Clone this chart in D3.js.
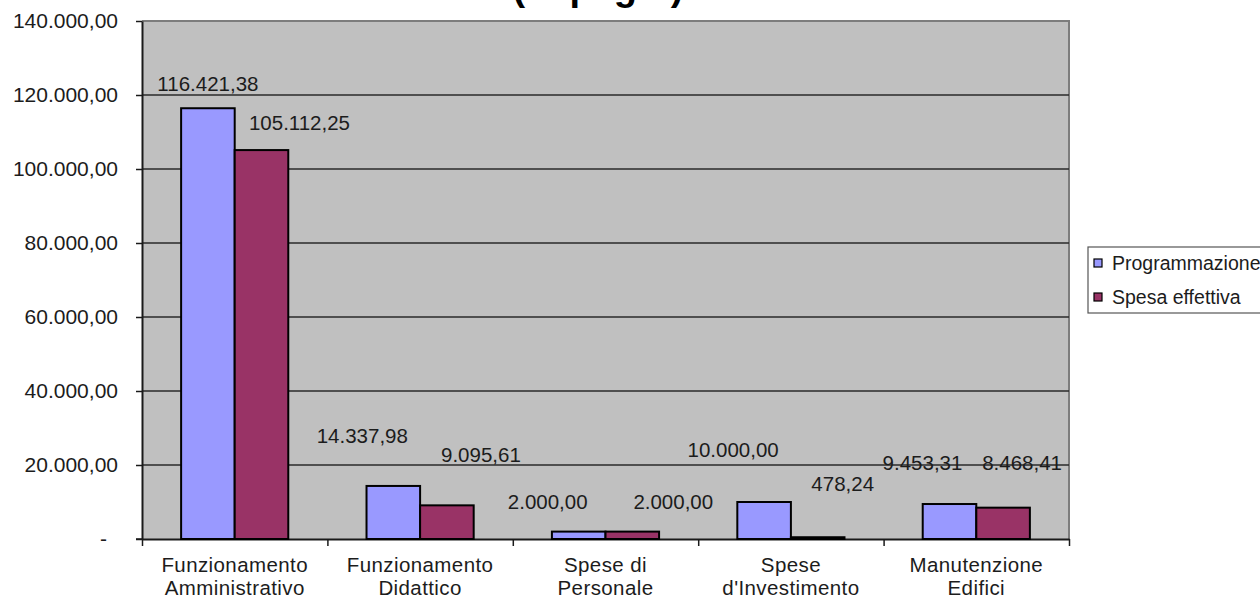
<!DOCTYPE html>
<html>
<head>
<meta charset="utf-8">
<script src="https://cdn.jsdelivr.net/npm/d3@7/dist/d3.min.js"></script>
<style>
  html, body { margin: 0; padding: 0; background: #fff; }
  svg { display: block; font-family: Arial, "Liberation Sans", sans-serif; }
</style>
</head>
<body>
<svg id="chart" width="1260" height="599"></svg>
<script>
// ---- data ----
const categories = [
  ["Funzionamento", "Amministrativo"],
  ["Funzionamento", "Didattico"],
  ["Spese di", "Personale"],
  ["Spese", "d'Investimento"],
  ["Manutenzione", "Edifici"]
];
const seriesNames = ["Programmazione", "Spesa effettiva"];
const programmazione = [116421.38, 14337.98, 2000.00, 10000.00, 9453.31];
const spesaEffettiva = [105112.25, 9095.61, 2000.00, 478.24, 8468.41];
const yTicks = [0, 20000, 40000, 60000, 80000, 100000, 120000, 140000];
const titleText = "(impegni)";

// ---- layout / style ----
const colors = ["#9999ff", "#993366"];
const plot = { left: 142, right: 1069, top: 21, bottom: 539 };
// manual nudges of the value labels (dx from bar centre, dy from bar top), as placed in the original
const labelNudge = [
  [[0, -17], [38, -20]],
  [[-31, -43], [34, -43]],
  [[-31, -23], [41, -23]],
  [[-31, -45], [25, -46]],
  [[-27, -34], [19, -38]]
];

const svg = d3.select("#chart");
const fmt = v => {
  const s = d3.format(",.2f")(v);
  return s.replace(/,/g, "#").replace(".", ",").replace(/#/g, ".");
};

const y = d3.scaleLinear().domain([0, 140000]).range([plot.bottom, plot.top]);
const x0 = d3.scaleBand().domain(d3.range(categories.length)).range([plot.left, plot.right]).padding(0);
const x1 = d3.scaleBand().domain([0, 1]).range([0, x0.bandwidth()]).paddingInner(0).paddingOuter(0.73);

// plot area background
svg.append("rect")
  .attr("x", plot.left).attr("y", plot.top)
  .attr("width", plot.right - plot.left).attr("height", plot.bottom - plot.top)
  .attr("fill", "#c0c0c0");

// plot border (top & right, grey)
svg.append("path")
  .attr("d", `M${plot.left},${plot.top}H${plot.right}V${plot.bottom}`)
  .attr("fill", "none").attr("stroke", "#7d7d7d").attr("stroke-width", 2);

// gridlines
svg.append("g").selectAll("line")
  .data(yTicks.filter(t => t > 0 && t < 140000))
  .join("line")
  .attr("x1", plot.left).attr("x2", plot.right)
  .attr("y1", d => y(d)).attr("y2", d => y(d))
  .attr("stroke", "#2a2a2a").attr("stroke-width", 1.5);

// y axis
const yAxis = d3.axisLeft(y).tickValues(yTicks).tickSize(6).tickSizeOuter(0)
  .tickFormat(d => d === 0 ? "-" : fmt(d));
const gy = svg.append("g").attr("transform", `translate(${plot.left},0)`).call(yAxis);
gy.select(".domain").attr("stroke", "#1a1a1a").attr("stroke-width", 2);
gy.selectAll(".tick line").attr("stroke", "#1a1a1a").attr("stroke-width", 1.5);
gy.selectAll(".tick text")
  .attr("x", d => d === 0 ? -35 : -24)
  .attr("font-size", "21px")
  .attr("fill", "#1c1c1c")
  .attr("font-family", "Arial, 'Liberation Sans', sans-serif");

// x axis
const xAxis = d3.axisBottom(d3.scaleLinear().domain([0, categories.length]).range([plot.left, plot.right]))
  .tickValues(d3.range(categories.length + 1)).tickSize(7).tickSizeOuter(0).tickFormat("");
const gx = svg.append("g").attr("transform", `translate(0,${plot.bottom})`).call(xAxis);
gx.select(".domain").attr("stroke", "#1a1a1a").attr("stroke-width", 2);
gx.selectAll(".tick line").attr("stroke", "#1a1a1a").attr("stroke-width", 1.5);
svg.append("line").attr("x1", plot.left - 6).attr("x2", plot.left)
  .attr("y1", plot.bottom).attr("y2", plot.bottom).attr("stroke", "#1a1a1a").attr("stroke-width", 1.5);

// category labels
const catG = svg.append("g");
categories.forEach((lines, i) => {
  const t = catG.append("text")
    .attr("x", x0(i) + x0.bandwidth() / 2)
    .attr("y", 572)
    .attr("text-anchor", "middle")
    .attr("font-size", "20.5px")
    .attr("letter-spacing", "0.4px")
    .attr("fill", "#1c1c1c");
  lines.forEach((ln, k) => {
    t.append("tspan").attr("x", x0(i) + x0.bandwidth() / 2).attr("y", 572 + k * 23).text(ln);
  });
});

// bars
const seriesData = [programmazione, spesaEffettiva];
const bars = [];
categories.forEach((c, i) => {
  seriesData.forEach((arr, s) => bars.push({ i, s, v: arr[i] }));
});
svg.append("g").selectAll("rect")
  .data(bars)
  .join("rect")
  .attr("x", d => x0(d.i) + x1(d.s))
  .attr("y", d => y(d.v))
  .attr("width", x1.bandwidth())
  .attr("height", d => y(0) - y(d.v))
  .attr("fill", d => colors[d.s])
  .attr("stroke", "#000")
  .attr("stroke-width", 2);

// value labels
svg.append("g").selectAll("text")
  .data(bars)
  .join("text")
  .attr("x", d => x0(d.i) + x1(d.s) + x1.bandwidth() / 2 + labelNudge[d.i][d.s][0])
  .attr("y", d => y(d.v) + labelNudge[d.i][d.s][1])
  .attr("text-anchor", "middle")
  .attr("font-size", "20.5px")
  .attr("fill", "#1c1c1c")
  .text(d => fmt(d.v));

// legend
const lg = svg.append("g");
lg.append("rect").attr("x", 1088).attr("y", 247).attr("width", 190).attr("height", 66)
  .attr("fill", "#fff").attr("stroke", "#555").attr("stroke-width", 1.2);
seriesNames.forEach((n, k) => {
  const cy = 263 + k * 34;
  lg.append("rect").attr("x", 1094).attr("y", cy - 4).attr("width", 8).attr("height", 8)
    .attr("fill", colors[k]).attr("stroke", "#000").attr("stroke-width", 1.2);
  lg.append("text").attr("x", 1112).attr("y", cy).attr("dy", "0.35em")
    .attr("font-size", "19.5px").attr("fill", "#1c1c1c").text(n);
});

// title (mostly cut off at the top in the original)
svg.append("text").attr("x", 598).attr("y", 0).attr("text-anchor", "middle")
  .attr("font-size", "38px").attr("font-weight", "bold").attr("fill", "#000").text(titleText);
</script>
</body>
</html>
